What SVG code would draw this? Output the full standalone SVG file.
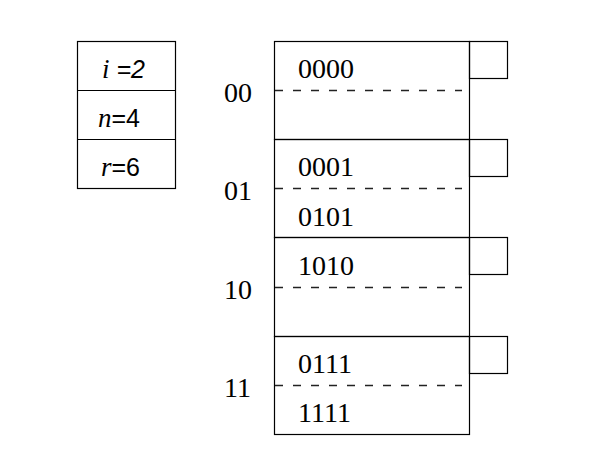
<svg xmlns="http://www.w3.org/2000/svg" width="604" height="474" viewBox="0 0 604 474">
<style>
.box{fill:none;stroke:#000;stroke-width:1.2}
.dash{fill:none;stroke:#222;stroke-width:1.3;stroke-dasharray:8 10}
.t{font-family:"Liberation Serif","Times New Roman",serif;font-size:28px;fill:#000}
.v{font-family:"Liberation Serif","Times New Roman",serif;font-size:27px;font-style:italic;fill:#000}
.s{font-family:"Liberation Sans",Arial,sans-serif;font-size:25px;fill:#000}
</style>
<rect width="604" height="474" fill="#fff"/>
<g id="params">
<rect class="box" x="77.5" y="41.5" width="98" height="147"/>
<line class="box" x1="77.5" y1="90.5" x2="175.5" y2="90.5"/>
<line class="box" x1="77.5" y1="139.5" x2="175.5" y2="139.5"/>
<text x="102" y="78"><tspan class="v">i</tspan><tspan class="s" font-style="italic"> =2</tspan></text>
<text x="98" y="127"><tspan class="v">n</tspan><tspan class="s">=4</tspan></text>
<text x="101" y="176"><tspan class="v">r</tspan><tspan class="s">=6</tspan></text>
</g>
<g id="bucket00">
<rect class="box" x="274.5" y="41.5" width="195" height="98"/>
<rect class="box" x="469.5" y="41.5" width="38" height="37"/>
<line class="dash" x1="275" y1="90.5" x2="462" y2="90.5"/>
<text class="t" x="224" y="102">00</text>
<text class="t" x="298" y="78">0000</text>
</g>
<g id="bucket01">
<rect class="box" x="274.5" y="139.5" width="195" height="98"/>
<rect class="box" x="469.5" y="139.5" width="38" height="37"/>
<line class="dash" x1="275" y1="188.5" x2="462" y2="188.5"/>
<text class="t" x="224" y="200">01</text>
<text class="t" x="298" y="176">0001</text>
<text class="t" x="298" y="226">0101</text>
</g>
<g id="bucket10">
<rect class="box" x="274.5" y="237.5" width="195" height="99"/>
<rect class="box" x="469.5" y="237.5" width="38" height="37"/>
<line class="dash" x1="275" y1="287.5" x2="462" y2="287.5"/>
<text class="t" x="224" y="299">10</text>
<text class="t" x="298" y="275">1010</text>
</g>
<g id="bucket11">
<rect class="box" x="274.5" y="336.5" width="195" height="98"/>
<rect class="box" x="469.5" y="336.5" width="38" height="37"/>
<line class="dash" x1="275" y1="385.5" x2="462" y2="385.5"/>
<text class="t" x="224" y="397">11</text>
<text class="t" x="298" y="373">0111</text>
<text class="t" x="298" y="422">1111</text>
</g>
<g id="connectors"></g>
</svg>
